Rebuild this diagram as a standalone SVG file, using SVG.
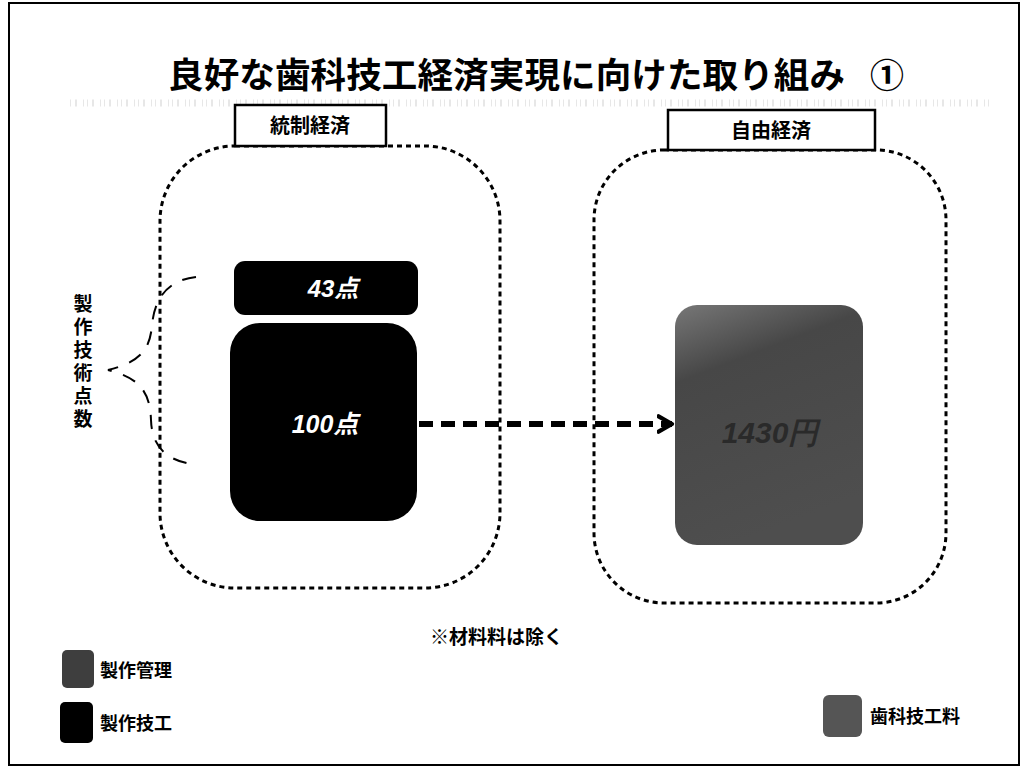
<svg xmlns="http://www.w3.org/2000/svg" width="1028" height="776" viewBox="0 0 1028 776">
<style>
.jp{font-family:"Noto Sans CJK JP","Noto Sans CJK SC",sans-serif;font-weight:700;fill:#000}
.cont{fill:none;stroke:#000;stroke-width:3;stroke-dasharray:5 4}
.lbl{fill:#fff;stroke:#000;stroke-width:2.5}
.num{font-family:"Liberation Sans","Noto Sans CJK JP",sans-serif;font-weight:700;font-style:italic;fill:#fff}
</style>
<defs>
<linearGradient id="gfill" x1="0" y1="0" x2="0.3" y2="1">
<stop offset="0" stop-color="#777"/>
<stop offset="0.3" stop-color="#474747"/>
<stop offset="1" stop-color="#4e4e4e"/>
</linearGradient>
<marker id="arr" viewBox="0 0 10 10" refX="8" refY="5" markerWidth="3.2" markerHeight="3.2" orient="auto" markerUnits="strokeWidth">
<path d="M1,1 L8,5 L1,9" fill="none" stroke="#000" stroke-width="2.2" stroke-linecap="round" stroke-linejoin="round"/>
</marker>
</defs>
<rect width="1028" height="776" fill="#fff"/>
<rect x="9" y="3" width="1010" height="762" fill="none" stroke="#000" stroke-width="2"/>
<g id="title">
<text class="jp" x="168" y="88" font-size="35.5" font-weight="900" textLength="677" lengthAdjust="spacing">良好な歯科技工経済実現に向けた取り組み</text>
<text class="jp" x="887" y="88" font-size="34" font-weight="900" text-anchor="middle">①</text>
<line x1="70" y1="103" x2="990" y2="103" stroke="#ccc" stroke-width="7" stroke-dasharray="1 4 2 6 1 3" opacity="0.45"/>
</g>
<g id="controlled">
<rect class="cont" x="160" y="146" width="340" height="442" rx="75"/>
<rect class="lbl" x="235" y="105" width="151" height="41"/>
<text class="jp" x="310" y="133" font-size="20" text-anchor="middle">統制経済</text>
</g>
<g id="free">
<rect class="cont" x="594" y="150" width="352" height="453" rx="70"/>
<rect class="lbl" x="668" y="110" width="207" height="40"/>
<text class="jp" x="771" y="138" font-size="20" text-anchor="middle">自由経済</text>
</g>
<g id="n43">
<rect x="234" y="261" width="184" height="54" rx="11" fill="#000"/>
<text class="num" x="333" y="297" font-size="24" text-anchor="middle">43点</text>
</g>
<g id="n100">
<rect x="230" y="323" width="187" height="198" rx="30" fill="#000"/>
<text class="num" x="325" y="433" font-size="25" text-anchor="middle">100点</text>
</g>
<g id="fee">
<rect x="675" y="305" width="188" height="240" rx="22" fill="url(#gfill)"/>
<text x="770" y="443" font-size="30" font-family="Liberation Sans,sans-serif" font-weight="700" font-style="italic" fill="#2a2a2a" text-anchor="middle">1430円</text>
</g>
<g id="brace-label">
<path d="M196,277 C170,280 155,295 152,325 C150,350 140,362 108,370 C140,378 150,392 151,420 C152,450 170,462 198,465" fill="none" stroke="#000" stroke-width="2" stroke-dasharray="14 12"/>
<text class="jp" x="83" y="294" font-size="19" writing-mode="tb" letter-spacing="4">製作技術点数</text>
</g>
<g id="connectors">
<line x1="419" y1="424" x2="672" y2="424" stroke="#000" stroke-width="6" stroke-dasharray="14 8" marker-end="url(#arr)"/>
</g>
<g id="note">
<text class="jp" x="430" y="644" font-size="19">※材料料は除く</text>
</g>
<g id="legend">
<rect x="62" y="650" width="32" height="38" rx="5" fill="#3e3e3e"/>
<text class="jp" x="100" y="677" font-size="18">製作管理</text>
<rect x="60" y="702" width="33" height="41" rx="5" fill="#000"/>
<text class="jp" x="100" y="730" font-size="18">製作技工</text>
<rect x="823" y="695" width="39" height="42" rx="6" fill="#555"/>
<text class="jp" x="870" y="723" font-size="18">歯科技工料</text>
</g>
</svg>
